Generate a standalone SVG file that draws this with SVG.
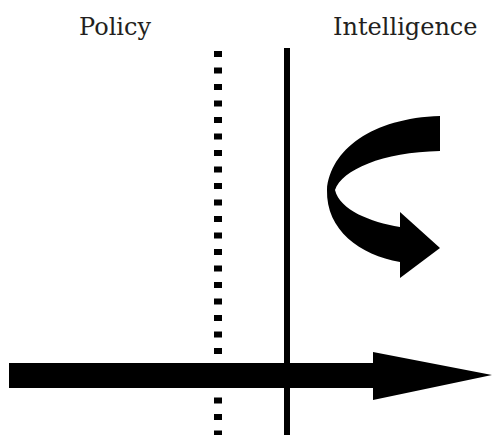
<svg xmlns="http://www.w3.org/2000/svg" width="492" height="435" viewBox="0 0 492 435">
<style>
.lbl{font-family:"DejaVu Serif","Liberation Serif",serif;font-size:24px;fill:#231f20;}
.shape{fill:#000;}
</style>
<rect width="492" height="435" fill="#fff"/>
<g id="label-policy"><text class="lbl" x="79" y="35">Policy</text></g>
<g id="label-intelligence"><text class="lbl" x="333" y="35">Intelligence</text></g>
<g id="connectors">
<line id="dotted-divider" x1="218" y1="51" x2="218" y2="435" stroke="#000" stroke-width="8" stroke-dasharray="6 10.5"/>
<line id="solid-divider" x1="287" y1="48" x2="287" y2="435" stroke="#000" stroke-width="6"/>
<path id="timeline-arrow" class="shape" d="M9,363 L373,363 L373,352 L492,375 L373,400 L373,388 L9,388 Z"/>
<path id="feedback-arrow" class="shape" d="M440,116 C372,118 330,150 327,190 C326,230 360,255 400,262 L400,278 L440,248 L400,212 L400,227 C370,222 340,210 335,190 C342,170 382,152 440,151 Z"/>
</g>
</svg>
